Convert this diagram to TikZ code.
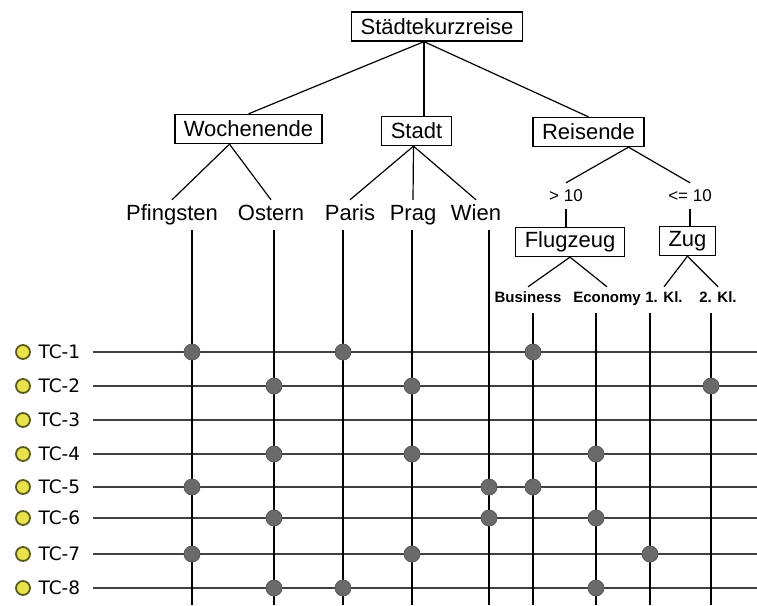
\documentclass[tikz,border=0pt]{standalone}
\usepackage{fontspec}
\setmainfont{Liberation Sans}
\newfontfamily\tcfont{DejaVu Sans}

\definecolor{bulbfill}{HTML}{E8E34C}
\definecolor{bulbdraw}{HTML}{5C5A1E}
\definecolor{hitgray}{HTML}{6A6A6A}

\tikzset{
  box/.style={draw, line width=1.3pt, inner xsep=9pt, minimum height=29pt, font=\fontsize{22}{24}\selectfont},
  leaf/.style={font=\fontsize{22}{24}\selectfont, text height=16pt, text depth=5pt, minimum height=30pt, inner sep=0pt},
  cond/.style={font=\fontsize{17}{19}\selectfont, minimum height=26pt, inner sep=0pt},
  klasse/.style={font=\bfseries\fontsize{15}{17}\selectfont, text height=11pt, text depth=3.5pt, minimum height=24pt, inner sep=0pt},
  edge/.style={line width=1.2pt},
  bulb/.style={circle, fill=bulbfill, draw=bulbdraw, line width=1.8pt, minimum size=14pt, inner sep=0pt},
  tclabel/.style={font=\tcfont\fontsize{18.5}{20}\selectfont, anchor=west},
  rowline/.style={line width=2pt, draw=black!75, shorten <=9pt},
  colline/.style={line width=1.5pt},
  hit/.style={circle, fill=hitgray, draw=black!65, line width=0.8pt, minimum size=16pt, inner sep=0pt}
}

\begin{document}
\begin{tikzpicture}[x=1pt,y=-1pt]
        \useasboundingbox (0,0) rectangle (757,605);

        % Classification tree
        \node[box] (root) at (437,26.5) {Städtekurzreise};
        \node[box] (woche) at (248.5,129) {Wochenende};
        \node[box] (stadt) at (416.5,131) {Stadt};
        \node[box] (reis) at (588.5,132) {Reisende};

        \foreach \name/\x/\txt in {pfingsten/172/Pfingsten, ostern/271/Ostern, paris/350/Paris, prag/413/Prag, wien/476/Wien} {
            \node[leaf] (\name) at (\x,215) {\txt};
        }

        \node[cond] (gt) at (566,196) {> 10};
        \node[cond] (le) at (690,196) {<= 10};
        \node[box] (flug) at (570,242) {Flugzeug};
        \node[box] (zug) at (687.5,241) {Zug};

        \foreach \name/\x/\txt in {business/528/Business, economy/607/Economy, erste/664/1. Kl., zweite/718/2. Kl.} {
            \node[klasse] (\name) at (\x,299) {\txt};
        }

        % Tree edges
        \coordinate (root-fork) at ([xshift=-13pt]root.south);
        \draw[edge] (root-fork) -- (woche.north);
        \draw[edge] (root-fork) -- (root-fork |- stadt.north);
        \draw[edge] (root-fork) -- (reis.north);

        \coordinate (woche-fork) at ([xshift=-19pt]woche.south);
        \draw[edge] (woche-fork) -- (pfingsten.north);
        \draw[edge] (woche-fork) -- (ostern.north);

        \coordinate (stadt-fork) at ([xshift=-3pt]stadt.south);
        \foreach \c in {paris,prag,wien} {
            \draw[edge] (stadt-fork) -- (\c.north);
        }

        \coordinate (reis-fork) at ([xshift=40pt]reis.south);
        \draw[edge] (reis-fork) -- (gt.north);
        \draw[edge] (reis-fork) -- (le.north);
        \draw[edge] (gt.south) -- (gt.south |- flug.north);
        \draw[edge] (le.south) -- (le.south |- zug.north);

        \draw[edge] (flug.south) -- (business.north);
        \draw[edge] (flug.south) -- (economy.north);
        \draw[edge] (zug.south) -- (erste.north);
        \draw[edge] (zug.south) -- (zweite.north);

        % Test cases (rows)
        \foreach \i/\y in {1/352,2/386,3/420,4/454,5/487,6/518,7/554,8/588} {
            \node[bulb] (bulb\i) at (23,\y) {};
            \node[tclabel] (tc\i) at (35,\y) {TC-\i};
            \coordinate (end\i) at (757,\y);
            \draw[rowline] (tc\i.east) -- (end\i);
        }

        % Classes (columns)
        \coordinate (bottom) at (0,605);
        \foreach \c/\x/\top in {pfingsten/192/230, ostern/274/230, paris/343/230, prag/412/230, wien/489/230, business/533/313, economy/596/313, erste/650/313, zweite/711/313} {
            \coordinate (col-\c) at (\x,\top);
            \draw[colline] (col-\c) -- (col-\c |- bottom);
        }

        % Selected classes per test case
        \foreach \i/\cols in {1/{pfingsten,paris,business}, 2/{ostern,prag,zweite}, 4/{ostern,prag,economy}, 5/{pfingsten,wien,business}, 6/{ostern,wien,economy}, 7/{pfingsten,prag,erste}, 8/{ostern,paris,economy}} {
            \foreach \c in \cols {
                \node[hit] (hit\i-\c) at (col-\c |- end\i) {};
            }
        }
    \end{tikzpicture}
\end{document}
